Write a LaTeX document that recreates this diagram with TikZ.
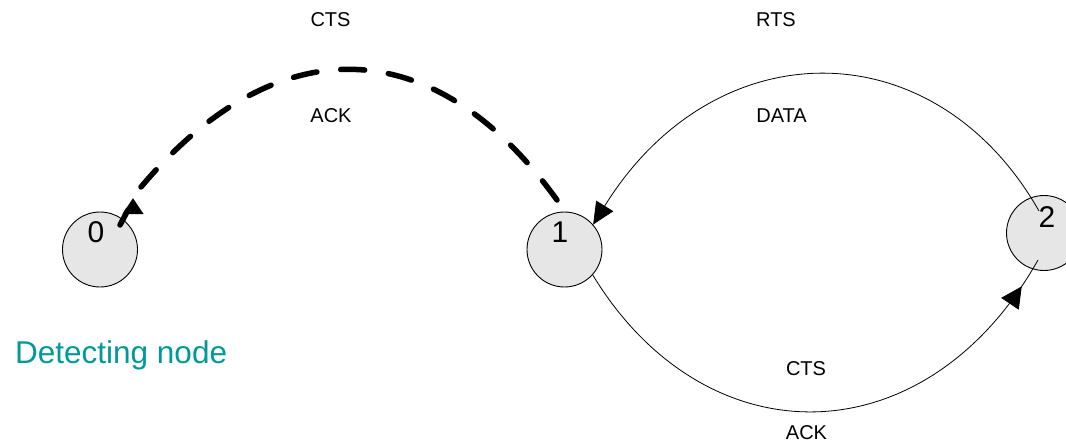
\documentclass[tikz,border=0pt]{standalone}
\usepackage{fontspec}
\setmainfont{Liberation Sans}
\usetikzlibrary{arrows.meta,decorations.markings}
\definecolor{detectcol}{RGB}{0,153,153}
\definecolor{nodegray}{RGB}{230,230,230}
\begin{document}
\begin{tikzpicture}[x=1pt,y=-1pt,
  station/.style={circle,draw=black,line width=0.9pt,fill=nodegray,minimum size=75pt,inner sep=0pt},
  digit/.style={anchor=base,inner sep=0pt,font=\fontsize{30}{36}\selectfont},
  msg/.style={anchor=base,inner sep=0pt,font=\fontsize{20}{24}\selectfont},
  link/.style={line width=0.8pt},
  thinhead/.style={-{Triangle[length=22pt,width=20pt]}},
  overheard/.style={line width=5.5pt,dash pattern=on 24pt off 23.9pt,line cap=round},
  midhead/.style={postaction={decorate},decoration={markings,
      mark=at position -31pt with {\arrow{Triangle[length=21pt,width=21pt]}}}}]
\clip (0,0) rectangle (1066,442);

% stations
\node[station] (n0) at (100,249.5) {};
\node[station] (n1) at (564.5,249.5) {};
\node[station] (n2) at (1044,233) {};
\node[digit] (l0) at (96,242) {0};
\node[digit] (l1) at (560,242) {1};
\node[digit] (l2) at (1047,227) {2};

% free ends of the connectors inside and beside the stations
\coordinate (in2a) at (1039,211);
\coordinate (in2b) at (1038,260);
\coordinate (d1) at (557,200);
\coordinate (d0) at (141,187);
\coordinate (s0) at (120,225);
\coordinate (b0) at (128,210);
\coordinate (h0) at (133,214);
\coordinate (t0) at (133,198);

% 2 -> 1 : RTS / DATA
\draw[link,thinhead] (in2a) .. controls (935,28) and (715,28) .. (n1.41);
% 1 -> 2 : CTS / ACK
\draw[link,midhead] (n1.-42) .. controls (705,460) and (925,460) .. (in2b);
% overheard CTS / ACK reaching node 0
\draw[overheard] (d1) .. controls (433,28) and (275,28) .. (d0);
\draw[line width=5.5pt,line cap=round] (s0) -- (b0);
\draw[line width=5.5pt,-{Triangle[length=16pt,width=20pt]}] (h0) -- (t0);

% message labels
\node[msg] (m1) at (330.5,26) {CTS};
\node[msg] (m2) at (331,122) {ACK};
\node[msg] (m3) at (776,26) {RTS};
\node[msg] (m4) at (781.5,122) {DATA};
\node[msg] (m5) at (806,375) {CTS};
\node[msg] (m6) at (806.5,439) {ACK};

\node[anchor=base west,inner sep=0pt,text=detectcol,font=\fontsize{31.5}{38}\selectfont] (cap) at (15,363) {Detecting node};
\end{tikzpicture}
\end{document}
